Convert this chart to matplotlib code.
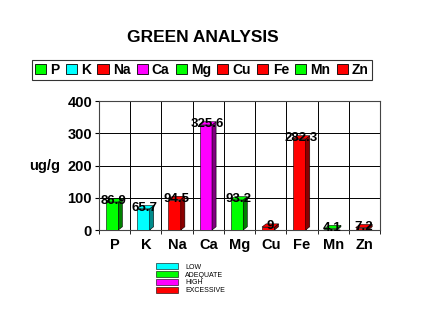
import numpy as np
import matplotlib
matplotlib.use("Agg")
import matplotlib.pyplot as plt
from matplotlib.patches import Polygon, Patch

plt.rcParams['font.family'] = ['Liberation Sans', 'DejaVu Sans']

# data
elements = ['P', 'K', 'Na', 'Ca', 'Mg', 'Cu', 'Fe', 'Mn', 'Zn']
values = [86.9, 65.7, 94.5, 325.6, 93.2, 9, 282.3, 4.1, 7.2]
value_labels = ['86.9', '65.7', '94.5', '325.6', '93.2', '9', '282.3', '4.1', '7.2']
levels = ['adequate', 'low', 'excessive', 'high', 'adequate', 'excessive', 'excessive', 'adequate', 'excessive']
level_names = ['LOW', 'ADEQUATE', 'HIGH', 'EXCESSIVE']
level_colors = {'low': '#00ffff', 'adequate': '#00ff00', 'high': '#ff00ff', 'excessive': '#ff0000'}
side_colors = {'low': '#008b8b', 'adequate': '#008000', 'high': '#800080', 'excessive': '#8b0000'}

fig = plt.figure(figsize=(4.24, 3.22), dpi=100)
ax = fig.add_axes([99/424, 1-230/322, 281/424, 129/322])

n = len(elements)
x = np.arange(n) + 0.42
w = 0.4
dx, dy = 0.13, 10   # pseudo depth

# back wall grid
ax.set_xlim(0, n)
ax.set_ylim(0, 400)
for gy in [100, 200, 300, 400]:
    ax.plot([0, n], [gy, gy], color='black', lw=0.7, zorder=1)
for gx in range(1, n + 1):
    ax.plot([gx, gx], [0, 400], color='black', lw=0.7, zorder=1)

for xi, v, lev, lab in zip(x, values, levels, value_labels):
    c = level_colors[lev]
    s = side_colors[lev]
    ax.bar(xi, v, width=w, color=c, edgecolor='black', linewidth=0.4, zorder=3)
    side = Polygon([(xi + w/2, 0), (xi + w/2 + dx, dy), (xi + w/2 + dx, v + dy), (xi + w/2, v)],
                   closed=True, facecolor=s, edgecolor='black', lw=0.4, zorder=3)
    top = Polygon([(xi - w/2, v), (xi - w/2 + dx, v + dy), (xi + w/2 + dx, v + dy), (xi + w/2, v)],
                  closed=True, facecolor=c, edgecolor='black', lw=0.4, zorder=3)
    ax.add_patch(side)
    ax.add_patch(top)
    ax.text(xi + 0.05, v + 3, lab, ha='center', va='center', fontsize=9.5,
            fontweight='bold', zorder=5)

ax.set_xticks(np.arange(n) + 0.5)
ax.set_xticklabels(elements, fontsize=10.5, fontweight='bold')
ax.set_xticks(np.arange(n + 1), minor=True)
ax.tick_params(axis='x', which='major', length=0, pad=6)
ax.tick_params(axis='x', which='minor', length=3, direction='out')
ax.set_yticks([0, 100, 200, 300, 400])
ax.set_yticklabels(['0', '100', '200', '300', '400'], fontsize=10.5, fontweight='bold')
ax.tick_params(axis='y', length=3, direction='out', pad=2)
for sp in ax.spines.values():
    sp.set_color('#444444')
    sp.set_linewidth(0.8)

fig.text(29/424, 1-166/322, 'ug/g', fontsize=10.5, fontweight='bold', va='center')
fig.text(203/424, 1-38/322, 'GREEN ANALYSIS', fontsize=12.5, fontweight='bold',
         ha='center', va='center')

handles = [Patch(facecolor=level_colors[l], edgecolor='black', lw=0.6) for l in levels]
leg = fig.legend(handles, elements, loc='center', bbox_to_anchor=(202/424, 1-70/322),
                 ncol=n, frameon=True, fancybox=False, edgecolor='black',
                 prop={'weight': 'bold', 'size': 10}, handlelength=0.8, handleheight=0.8,
                 handletextpad=0.3, columnspacing=0.45, borderpad=0.25)
leg.get_frame().set_linewidth(0.8)

key_handles = [Patch(facecolor=level_colors[k], edgecolor='black', lw=0.4)
               for k in ['low', 'adequate', 'high', 'excessive']]
leg2 = fig.legend(key_handles, level_names, loc='upper left', bbox_to_anchor=(150/424, 1-257/322),
                  frameon=False, prop={'size': 5}, handlelength=3.2, handleheight=1.0,
                  labelspacing=0.05, handletextpad=1.0)

fig.savefig('out.png', dpi=100)
